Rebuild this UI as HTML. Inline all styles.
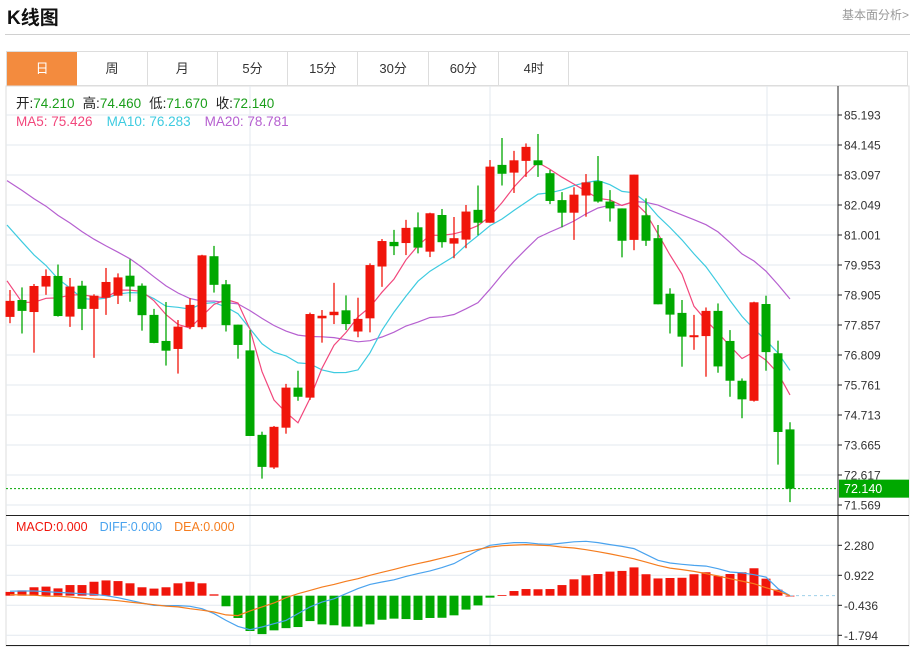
<!DOCTYPE html>
<html><head><meta charset="utf-8">
<style>
body{margin:0;width:913px;height:648px;background:#fff;font-family:"Liberation Sans","Noto Sans CJK SC",sans-serif;overflow:hidden;position:relative}
.title{position:absolute;left:7px;top:3px;font-size:19px;font-weight:bold;color:#111}
.more{position:absolute;right:4px;top:6px;font-size:12px;color:#999}
.hline{position:absolute;left:5px;width:905px;top:34px;height:1px;background:#d0d0d0}
.tabs{position:absolute;left:6px;top:51px;width:902px;height:35px;border:1px solid #ddd;box-sizing:border-box;display:flex}
.tab{width:70.3px;height:34px;line-height:34px;text-align:center;font-size:13px;color:#333;border-right:1px solid #ddd;box-sizing:border-box}
.tab.on{background:#f38b3e;color:#fff;border-right:none}
svg{position:absolute;left:0;top:0}
</style></head><body>
<div class="title">K线图</div>
<div class="more">基本面分析&gt;</div>
<div class="hline"></div>
<div class="tabs">
<div class="tab on">日</div>
<div class="tab">周</div>
<div class="tab">月</div>
<div class="tab">5分</div>
<div class="tab">15分</div>
<div class="tab">30分</div>
<div class="tab">60分</div>
<div class="tab">4时</div>
</div>
<svg id="chart" width="913" height="648"></svg>
<script>
const opens=[78.14,78.73,78.31,79.20,79.57,78.15,79.23,78.42,78.81,78.88,79.58,79.23,78.21,77.30,77.02,77.79,77.78,80.26,79.28,77.87,76.97,74.02,72.88,74.27,75.67,75.32,78.09,78.20,78.37,77.63,78.09,79.90,80.76,80.72,81.27,80.42,81.70,80.70,80.84,81.88,81.43,83.45,83.18,83.59,83.61,83.16,82.22,81.78,82.38,82.88,82.17,81.93,80.83,81.69,80.89,78.95,78.28,77.43,77.47,78.35,77.30,75.91,75.21,78.59,76.87,74.21];
const highs=[79.08,79.17,79.29,79.80,79.97,79.50,79.40,78.93,79.85,79.66,80.15,79.31,78.42,78.66,78.03,78.79,80.31,80.62,79.43,77.87,77.68,74.13,74.33,75.80,76.26,78.29,78.38,79.33,78.89,78.81,80.01,80.86,81.18,81.53,81.79,81.78,81.91,81.63,82.05,82.73,83.62,84.39,83.94,84.20,84.53,83.27,82.50,82.67,83.13,83.76,82.57,81.93,83.11,82.28,81.35,79.14,78.73,78.21,78.47,78.61,77.68,75.99,78.67,78.88,77.31,74.46];
const lows=[77.92,77.56,76.89,78.91,78.15,77.79,77.68,76.71,78.21,78.59,78.67,77.66,77.22,76.44,76.16,77.71,77.71,78.99,77.63,76.68,73.98,72.49,72.83,74.06,75.21,75.24,77.24,77.89,77.68,77.43,77.60,79.19,80.30,80.30,80.36,80.23,80.56,80.19,80.54,80.99,81.43,82.73,82.47,83.03,83.03,82.08,81.27,80.83,81.64,82.13,81.47,80.22,80.47,80.62,78.58,77.56,76.40,76.99,76.05,76.19,75.35,74.60,75.18,76.26,72.98,71.67];
const closes=[78.70,78.35,79.22,79.57,78.17,79.20,78.42,78.88,79.36,79.52,79.20,78.20,77.23,76.96,77.80,78.56,80.29,79.26,77.85,77.16,73.98,72.90,74.30,75.67,75.35,78.24,78.18,78.32,77.89,78.07,79.95,80.79,80.61,81.25,80.56,81.76,80.75,80.89,81.82,81.43,83.39,83.14,83.61,84.08,83.44,82.19,81.78,82.41,82.84,82.17,81.93,80.80,83.11,80.80,78.58,78.22,77.45,77.50,78.35,76.41,75.91,75.26,78.65,76.91,74.12,72.14];
const prevCloses=[85.2,85.0,84.8,84.6,84.5,84.4,84.2,84.1,83.9,83.8,84.2,83.8,83.3,82.8,82.4,82.1,79.22,78.87,78.11];
const macdHist=[0.17,0.24,0.38,0.41,0.33,0.48,0.48,0.63,0.69,0.66,0.56,0.38,0.32,0.38,0.56,0.63,0.56,0.06,-0.48,-1.01,-1.60,-1.74,-1.57,-1.47,-1.42,-1.15,-1.30,-1.34,-1.40,-1.40,-1.30,-1.09,-1.04,-1.06,-1.10,-1.01,-1.00,-0.89,-0.63,-0.44,-0.09,0.03,0.21,0.30,0.29,0.30,0.48,0.74,0.92,0.98,1.09,1.12,1.28,0.97,0.78,0.80,0.81,0.97,1.06,0.89,0.98,1.06,1.24,0.77,0.27,0.0];
const diffs=[0.20,0.21,0.21,0.18,0.15,0.12,0.09,0.06,0,-0.09,-0.21,-0.33,-0.44,-0.45,-0.45,-0.48,-0.59,-0.81,-1.12,-1.39,-1.54,-1.42,-1.27,-1.12,-0.81,-0.51,-0.29,-0.14,0.09,0.32,0.51,0.62,0.72,0.87,1.00,1.12,1.27,1.45,1.75,2.05,2.28,2.35,2.40,2.40,2.35,2.32,2.38,2.44,2.46,2.40,2.31,2.23,2.13,1.87,1.60,1.48,1.42,1.37,1.34,1.22,1.07,1.03,0.95,0.84,0.32,0];
const deas=[0.05,0.03,0.02,-0.02,-0.03,-0.06,-0.11,-0.15,-0.18,-0.23,-0.29,-0.35,-0.41,-0.47,-0.51,-0.59,-0.66,-0.74,-0.87,-0.90,-0.69,-0.51,-0.33,-0.09,0.09,0.24,0.39,0.51,0.65,0.77,0.92,1.06,1.19,1.33,1.45,1.57,1.70,1.83,1.98,2.10,2.20,2.26,2.29,2.31,2.29,2.26,2.20,2.16,2.08,1.99,1.89,1.78,1.67,1.52,1.37,1.25,1.18,1.10,1.00,0.89,0.77,0.66,0.54,0.36,0.20,0];
const priceTicks=[85.193,84.145,83.097,82.049,81.001,79.953,78.905,77.857,76.809,75.761,74.713,73.665,72.617,71.569];
const macdTicks=[2.280,0.922,-0.436,-1.794];

const RED='#f0150b',GREEN='#00a800';
const L=6,AX=838,R=909;
const pMax=85.193,pMin=71.569,pTop=115,pBot=505;
const py=p=>pTop+(pMax-p)*(pBot-pTop)/(pMax-pMin);
const mMax=2.280,mMin=-1.794,mTop=545.3,mBot=635.3;
const my=v=>mTop+(mMax-v)*(mBot-mTop)/(mMax-mMin);
const cx=i=>10+12*i;
const svg=document.getElementById('chart');
const NS='http://www.w3.org/2000/svg';
function mk(tag,attrs,parent){const e=document.createElementNS(NS,tag);for(const k in attrs)e.setAttribute(k,attrs[k]);(parent||svg).appendChild(e);return e;}

// frame
let g=mk('g',{});


mk('rect',{x:L,y:86,width:R-L,height:560,fill:'none',stroke:'#ddd'},g);
// grid
let grid=mk('g',{stroke:'#e3e9ef','stroke-width':1});


priceTicks.forEach(t=>mk('line',{x1:L,x2:AX,y1:py(t),y2:py(t)},grid));
macdTicks.forEach(t=>mk('line',{x1:L,x2:AX,y1:my(t),y2:my(t)},grid));
[250,490,767].forEach(x=>mk('line',{x1:x,x2:x,y1:86,y2:645},grid));

// MA lines
const all=prevCloses.concat(closes);
function ma(n){const out=[];for(let i=0;i<closes.length;i++){const j=i+prevCloses.length;let s=0,c=0;for(let k=j-n+1;k<=j;k++){if(k>=0){s+=all[k];c++;}}out.push(s/c);}return out;}
const ma5=ma(5),ma10=ma(10),ma20=ma(20);
const clip=mk('clipPath',{id:'pc'});mk('rect',{x:L,y:86,width:AX-L,height:430},clip);
[[ma20,'#b660d0','ma20-line'],[ma10,'#3ecbe0','ma10-line'],[ma5,'#f2477c','ma5-line']].forEach(([arr,col,name])=>{
  const pts=arr.map((v,i)=>(i===0?L+1:cx(i))+','+py(v).toFixed(1)).join(' ');
  const pl=mk('polyline',{points:pts,fill:'none',stroke:col,'stroke-width':1.2,'clip-path':'url(#pc)'});
  
  
});

// candles
const cg=mk('g',{});


for(let i=0;i<closes.length;i++){
  const up=closes[i]>=opens[i],col=up?RED:GREEN,x=cx(i);
  const c=mk('g',{},cg);
  
  
  mk('line',{x1:x,x2:x,y1:py(highs[i]),y2:py(lows[i]),stroke:col,'stroke-width':1.3},c);
  const t=py(Math.max(opens[i],closes[i])),b=py(Math.min(opens[i],closes[i]));
  mk('rect',{x:x-4.5,y:t,width:9,height:Math.max(1.5,b-t),fill:col},c);
}
// last price line
const lp=closes[closes.length-1];
const lpl=mk('line',{x1:L,x2:AX,y1:py(lp),y2:py(lp),stroke:GREEN,'stroke-dasharray':'2,2','stroke-width':1});



// MACD bars
const mg=mk('g',{});


const z=my(0);
macdHist.forEach((v,i)=>{
  const y=my(v);
  const r=mk('rect',{x:cx(i)-4.5,y:Math.min(y,z),width:9,height:Math.max(0.8,Math.abs(y-z)),fill:v>=0?RED:GREEN},mg);
  
  
});
const zl=mk('line',{x1:cx(macdHist.length-1),x2:AX,y1:z,y2:z,stroke:'#9fd0ea','stroke-dasharray':'3,3'});


[[diffs,'#4aa3ee','diff-line'],[deas,'#f57d1f','dea-line']].forEach(([arr,col,name])=>{
  const pl=mk('polyline',{points:arr.map((v,i)=>cx(i)+','+my(v).toFixed(1)).join(' '),fill:'none',stroke:col,'stroke-width':1.2});
  
  
});

// axes & separators
const ax=mk('g',{stroke:'#222','stroke-width':1});


mk('line',{x1:AX,x2:AX,y1:86,y2:646},ax);
mk('line',{x1:L,x2:R,y1:515.5,y2:515.5},ax);
mk('line',{x1:L,x2:R,y1:645.5,y2:645.5},ax);
const tg=mk('g',{'font-size':12,fill:'#333','font-family':'Liberation Sans, sans-serif'});


priceTicks.forEach(t=>{mk('line',{x1:AX,x2:AX+4,y1:py(t),y2:py(t),stroke:'#222'},tg);const e=mk('text',{x:AX+6,y:py(t)+4.5},tg);e.textContent=t.toFixed(3);});
macdTicks.forEach(t=>{mk('line',{x1:AX,x2:AX+4,y1:my(t),y2:my(t),stroke:'#222'},tg);const e=mk('text',{x:AX+6,y:my(t)+4.5},tg);e.textContent=t.toFixed(3);});
// last price tag
const lt=mk('g',{});


mk('rect',{x:AX+1,y:py(lp)-9,width:R-AX-1,height:18,fill:GREEN},lt);
const ltt=mk('text',{x:AX+6,y:py(lp)+4.5,'font-size':12.5,fill:'#fff'},lt);ltt.textContent=lp.toFixed(3);

// legends
function txt(x,y,s,col,name){const e=mk('text',{x:x,y:y,'font-size':13,fill:col});e.textContent=s;return e;}
const ohlc=mk('text',{x:16,y:108,'font-size':13.5});


[['开:','#222'],['74.210  ','#1a9e1a'],['高:','#222'],['74.460  ','#1a9e1a'],['低:','#222'],['71.670  ','#1a9e1a'],['收:','#222'],['72.140','#1a9e1a']].forEach(([s,c],k)=>{const t=mk('tspan',{fill:c,dx:(k%2===0&&k>0)?8:0},ohlc);t.textContent=s.trim();});
const mal=mk('text',{x:16,y:126,'font-size':13.5});


[['MA5: 75.426','#f2477c',0],['MA10: 76.283','#3ecbe0',14],['MA20: 78.781','#b660d0',14]].forEach(([s,c,d])=>{const t=mk('tspan',{fill:c,dx:d},mal);t.textContent=s;});
const mcl=mk('text',{x:16,y:531,'font-size':12.5});


[['MACD:0.000','#f0150b',0],['DIFF:0.000','#4aa3ee',12],['DEA:0.000','#f57d1f',12]].forEach(([s,c,d])=>{const t=mk('tspan',{fill:c,dx:d},mcl);t.textContent=s;});
</script>
</body></html>
